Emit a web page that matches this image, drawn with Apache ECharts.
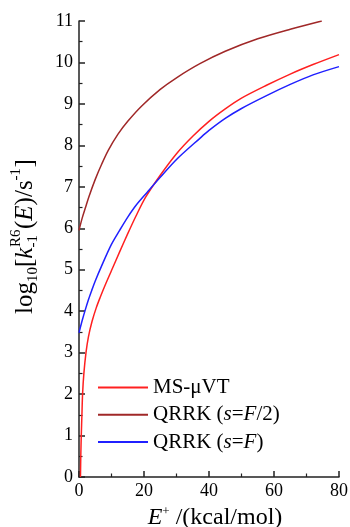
<!DOCTYPE html>
<html>
<head>
<meta charset="utf-8">
<script src="https://cdn.jsdelivr.net/npm/echarts@6/dist/echarts.min.js"></script>
<style>
  html, body { margin: 0; padding: 0; background: #fff; }
  #chart { width: 350px; height: 527px; }
</style>
</head>
<body>
<div id="chart"></div>
<script>
const serif = '"Liberation Serif", "Times New Roman", serif';

// MS-μVT
const msE = [0.45, 0.55, 0.7, 0.9, 1.1, 1.5, 2.15, 2.9, 4, 5.3, 6.5, 8, 10, 12.5, 15, 17.5, 20.5, 25, 30, 35, 40, 45, 50, 57.7, 65, 72, 80];
const msLog = [0, 0.5, 1.0, 1.5, 2.0, 2.5, 3.0, 3.38, 3.75, 4.08, 4.33, 4.62, 4.98, 5.43, 5.87, 6.29, 6.75, 7.28, 7.8, 8.22, 8.58, 8.88, 9.14, 9.45, 9.72, 9.95, 10.19];

// QRRK (s=F/2)
const halfE = [0, 1, 2, 3, 5, 7, 9, 12, 15, 19.3, 25, 30, 37.2, 45, 55, 65, 74.7];
const halfLog = [5.95, 6.25, 6.5, 6.75, 7.18, 7.55, 7.88, 8.27, 8.58, 8.95, 9.35, 9.63, 9.97, 10.27, 10.57, 10.8, 11.0];

// QRRK (s=F)
const fullE = [0, 1, 2, 3, 4, 5, 7, 9.9, 12.5, 15, 17.5, 21, 25, 30, 37.2, 40, 45, 50, 57.7, 65, 72, 80];
const fullLog = [3.48, 3.78, 4.05, 4.3, 4.52, 4.73, 5.1, 5.6, 5.95, 6.27, 6.55, 6.87, 7.23, 7.66, 8.17, 8.36, 8.65, 8.89, 9.2, 9.47, 9.7, 9.9];

const seriesNames = ['MS-μVT', 'QRRK (s=F/2)', 'QRRK (s=F)'];
const legendRich = {
  'MS-μVT': 'MS-μVT',
  'QRRK (s=F/2)': 'QRRK ({i|s}={i|F}/2)',
  'QRRK (s=F)': 'QRRK ({i|s}={i|F})'
};

function zip(xs, ys) {
  return xs.map((x, i) => [x, ys[i]]);
}

const chart = echarts.init(document.getElementById('chart'));

// y axis title, drawn as rotated pieces for the stacked sub/superscripts
function yTitle() {
  const big = 25, small = 15;
  const t = (text, x, y, size, italic) => ({
    type: 'text',
    x: x,
    y: y,
    style: {
      text: text,
      fontSize: size,
      fontFamily: serif,
      fontStyle: italic ? 'italic' : 'normal',
      fill: '#000',
      verticalAlign: 'middle',
      align: 'left'
    }
  });
  return {
    type: 'group',
    x: 25.5,
    y: 314,
    rotation: Math.PI / 2,
    children: [
      t('log', 0, 0, big),
      t('10', 31.9, 8, small),
      t('[', 47, 0, big),
      t('k', 55.3, 0, big, true),
      t('R6', 67, -9, small),
      t('-1', 66.4, 8, small),
      t('(', 85, 0, big),
      t('E', 93.3, 0, big, true),
      t(')', 108.6, 0, big),
      t('/', 116.9, 0, big),
      t('s', 123.9, 0, big),
      t('-1', 133.6, -9, small),
      t(']', 146.6, 0, big)
    ]
  };
}

function lineSeries(name, xs, ys, color) {
  return {
    name: name,
    type: 'line',
    data: zip(xs, ys),
    showSymbol: false,
    symbol: 'none',
    smooth: 0.3,
    color: color,
    lineStyle: { width: 1.5, color: color }
  };
}

const option = {
  animation: false,
  backgroundColor: '#fff',
  grid: { left: 79, right: 11, top: 21, bottom: 50, outerBoundsMode: 'none' },
  legend: {
    orient: 'vertical',
    left: 93,
    top: 370.5,
    itemWidth: 50,
    itemHeight: 2,
    itemGap: 3.3,
    icon: 'rect',
    data: seriesNames,
    formatter: (name) => legendRich[name],
    textStyle: {
      fontFamily: serif,
      fontSize: 21,
      lineHeight: 24,
      color: '#000',
      rich: {
        i: { fontFamily: serif, fontSize: 21, fontStyle: 'italic', color: '#000' }
      }
    }
  },
  xAxis: {
    type: 'value',
    min: 0,
    max: 80,
    interval: 20,
    name: '{i|E}{sup|+} /(kcal/mol)',
    nameLocation: 'middle',
    nameGap: 21,
    nameTextStyle: {
      fontFamily: serif,
      fontSize: 24,
      lineHeight: 26,
      color: '#000',
      padding: [0, 0, 0, 12],
      rich: {
        i: { fontFamily: serif, fontSize: 24, fontStyle: 'italic', lineHeight: 26, color: '#000' },
        sup: { fontFamily: serif, fontSize: 13, lineHeight: 13, verticalAlign: 'top', color: '#000' }
      }
    },
    axisLine: { lineStyle: { color: '#222', width: 1.5 } },
    axisTick: { inside: true, length: 6, lineStyle: { color: '#222', width: 1.5 } },
    minorTick: { show: true, splitNumber: 2, length: 3.5, lineStyle: { color: '#222', width: 1.2 } },
    axisLabel: { fontFamily: serif, fontSize: 18, color: '#000', margin: 5 },
    splitLine: { show: false }
  },
  yAxis: {
    type: 'value',
    min: 0,
    max: 11,
    interval: 1,
    axisLine: { show: true, lineStyle: { color: '#222', width: 1.5 } },
    axisTick: { show: true, inside: true, length: 6, lineStyle: { color: '#222', width: 1.5 } },
    minorTick: { show: true, splitNumber: 2, length: 3.5, lineStyle: { color: '#222', width: 1.2 } },
    axisLabel: { fontFamily: serif, fontSize: 18, color: '#000', margin: 6 },
    splitLine: { show: false }
  },
  graphic: [yTitle()],
  series: [
    lineSeries(seriesNames[0], msE, msLog, '#ff2020'),
    lineSeries(seriesNames[1], halfE, halfLog, '#a02828'),
    lineSeries(seriesNames[2], fullE, fullLog, '#2020ff')
  ]
};

chart.setOption(option);
</script>
</body>
</html>
